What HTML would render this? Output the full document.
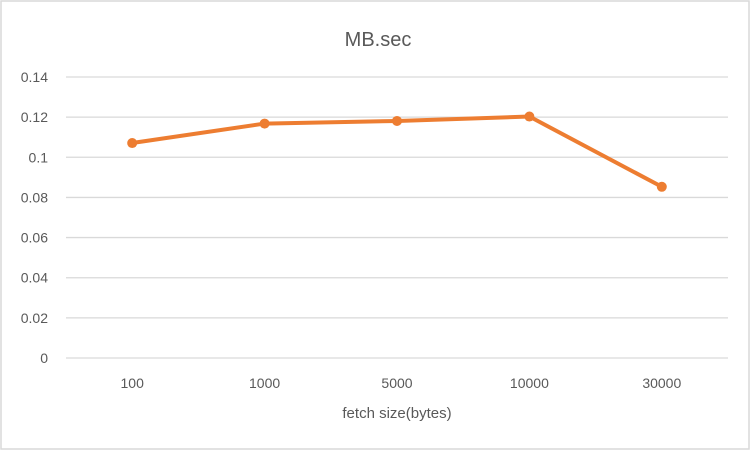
<!DOCTYPE html>
<html><head><meta charset="utf-8"><style>
body{margin:0;background:#fff}
svg{display:block;font-family:"Liberation Sans",sans-serif}
</style></head><body>
<svg id="chart" width="752" height="452">
<rect x="1" y="1" width="748" height="448" fill="#fff" stroke="#d9d9d9" stroke-width="1.5"/>
<text x="378" y="46" text-anchor="middle" font-size="20" fill="#595959">MB.sec</text>
<text x="397" y="418" text-anchor="middle" font-size="15" fill="#595959">fetch size(bytes)</text>
<g id="grid"></g><g id="ylab"></g><g id="xlab"></g><g id="series"></g>
</svg>
<script>
const categories=["100","1000","5000","10000","30000"];
const values=[0.1071,0.1168,0.1181,0.1203,0.0853];
const yTicks=[0,0.02,0.04,0.06,0.08,0.1,0.12,0.14];
const yTickLabels=["0","0.02","0.04","0.06","0.08","0.1","0.12","0.14"];
const L=66,R=728,T=77,B=358,yMax=0.14;
const ns="http://www.w3.org/2000/svg";
function y(v){return B-(v/yMax)*(B-T);}
function x(i){return L+(R-L)/categories.length*(i+0.5);}
function mk(tag,attrs,parent){const e=document.createElementNS(ns,tag);for(const k in attrs)e.setAttribute(k,attrs[k]);document.getElementById(parent).appendChild(e);return e;}
yTicks.forEach((t,i)=>{
  const g=mk("line",{x1:L,x2:R,y1:y(t),y2:y(t),stroke:"#d9d9d9","stroke-width":1.3},"grid");
  
  
  const tx=mk("text",{x:48,y:y(t)+5,"text-anchor":"end","font-size":14,fill:"#595959"},"ylab");
  tx.textContent=yTickLabels[i];
  
  
});
categories.forEach((c,i)=>{
  const tx=mk("text",{x:x(i),y:388,"text-anchor":"middle","font-size":14,fill:"#595959"},"xlab");
  tx.textContent=c;
  
  
});
const pts=values.map((v,i)=>x(i)+","+y(v)).join(" ");
const pl=mk("polyline",{points:pts,fill:"none",stroke:"#ed7d31","stroke-width":4,"stroke-linejoin":"round","stroke-linecap":"round"},"series");


values.forEach((v,i)=>{
  const c=mk("circle",{cx:x(i),cy:y(v),r:5,fill:"#ed7d31"},"series");
  
  
});
</script>
</body></html>
